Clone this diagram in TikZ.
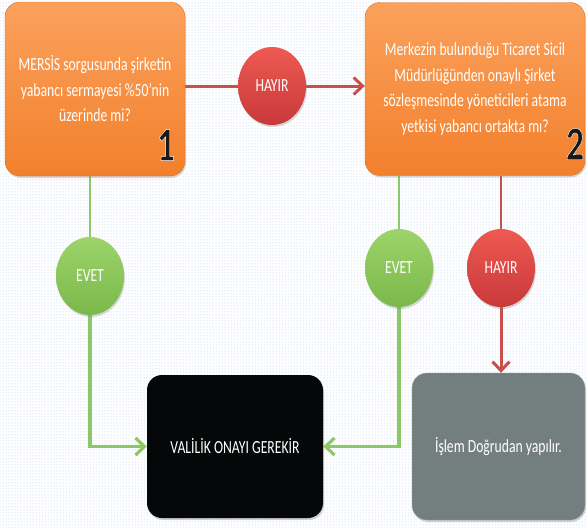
\documentclass[tikz,border=0pt]{standalone}
\usepackage{fontspec}
\setmainfont{Carlito}[FakeStretch=0.74]
\usetikzlibrary{shapes.geometric,shadows,patterns,arrows.meta,backgrounds}
\definecolor{BoxOrange}{HTML}{F2802C}
\definecolor{BoxOrangeTop}{HTML}{FBA15C}
\definecolor{BoxOrangeEdge}{HTML}{DF6E1F}
\definecolor{NoRed}{HTML}{C9393A}
\definecolor{NoRedTop}{HTML}{EE5A52}
\definecolor{YesGreen}{HTML}{7BB84C}
\definecolor{YesGreenTop}{HTML}{9CD46A}
\definecolor{LineRed}{HTML}{C8504C}
\definecolor{LineGreen}{HTML}{8CC866}
\definecolor{EndGray}{HTML}{737F7E}
\definecolor{EndBlack}{HTML}{050708}
\definecolor{DotBlue}{HTML}{AFCBEA}
% outlined step digit (white stroke round a dark fill)
\newcommand{\stepdigit}[1]{\special{pdf:literal direct 0.1 g 1 1 1 RG 0.4 w 1 j 2 Tr}#1\special{pdf:literal direct 0 Tr}}

\begin{document}
\begin{tikzpicture}[x=1pt,y=-1pt,
  every node/.style={font=\fontsize{18.5}{25.5}\selectfont, text=white, align=center, inner sep=0pt},
  question/.style={rectangle, rounded corners=15pt, draw=BoxOrangeEdge, top color=BoxOrangeTop, bottom color=BoxOrange,
    drop shadow={shadow xshift=1pt, shadow yshift=-2pt, opacity=0.3}},
  answer/.style={ellipse, minimum width=68pt, minimum height=78pt,
    drop shadow={shadow xshift=1pt, shadow yshift=-2pt, opacity=0.3}},
  yes/.style={answer, top color=YesGreenTop, bottom color=YesGreen},
  no/.style={answer, top color=NoRedTop, bottom color=NoRed},
  outcome/.style={rectangle, rounded corners=15pt, drop shadow={shadow xshift=1pt, shadow yshift=-2pt, opacity=0.35}},
  stepnum/.style={font=\fontsize{48}{48}\selectfont\bfseries, text=black!90},
  noline/.style={draw=LineRed, line width=3pt},
  yesline/.style={draw=LineGreen, line width=3.2pt},
  thin/.style={line width=2pt},
  tip/.style={-{Straight Barb[length=9pt,width=17pt]}}]
  \useasboundingbox (0,0) rectangle (587,528);
  \begin{pgfonlayer}{background}
    \fill[white] (0,0) rectangle (587,528);
    \fill[pattern=dots, pattern color=DotBlue] (0,0) rectangle (587,528);
  \end{pgfonlayer}
  % questions
  \node[question, minimum width=180pt, minimum height=174pt] (q1) at (95,89)
    {MERSİS sorgusunda şirketin\\yabancı sermayesi \%50’nin\\üzerinde mi?};
  \node[question, minimum width=220pt, minimum height=173pt] (q2) at (475,89)
    {Merkezin bulunduğu Ticaret Sicil\\Müdürlüğünden onaylı Şirket\\sözleşmesinde yöneticileri atama\\yetkisi yabancı ortakta mı?};
  \node[stepnum] (num1) at (166,145) {\stepdigit{1}};
  \node[stepnum] (num2) at (575,144) {\stepdigit{2}};
  % answers
  \node[no] (hayir1) at (272,86) {HAYIR};
  \node[yes] (evet1) at (90,276) {EVET};
  \node[yes] (evet2) at (399,268) {EVET};
  \node[no] (hayir2) at (501,268) {HAYIR};
  % results
  \node[outcome, fill=EndBlack, minimum width=176pt, minimum height=143pt] (valilik) at (235,446.5) {VALİLİK ONAYI GEREKİR};
  \node[outcome, fill=EndGray, draw=EndGray!70!white, minimum width=173pt, minimum height=147pt] (islem) at (498.5,446.5) {İşlem Doğrudan yapılır.};
  % connectors
  \begin{scope}[on background layer]
    \draw[noline, tip] (q1.east |- hayir1) -- (hayir1) -- (q2.west |- hayir1);
    \draw[yesline, thin] (q1.south -| evet1) -- (evet1);
    \draw[yesline, tip] (evet1) |- (valilik.west);
    \draw[yesline, thin] (q2.south -| evet2) -- (evet2);
    \draw[yesline, tip] (evet2) |- (valilik.east);
    \draw[noline, thin] (q2.south -| hayir2) -- (hayir2);
    \draw[noline, tip] (hayir2) -- (islem.north -| hayir2);
  \end{scope}
\end{tikzpicture}
\end{document}
